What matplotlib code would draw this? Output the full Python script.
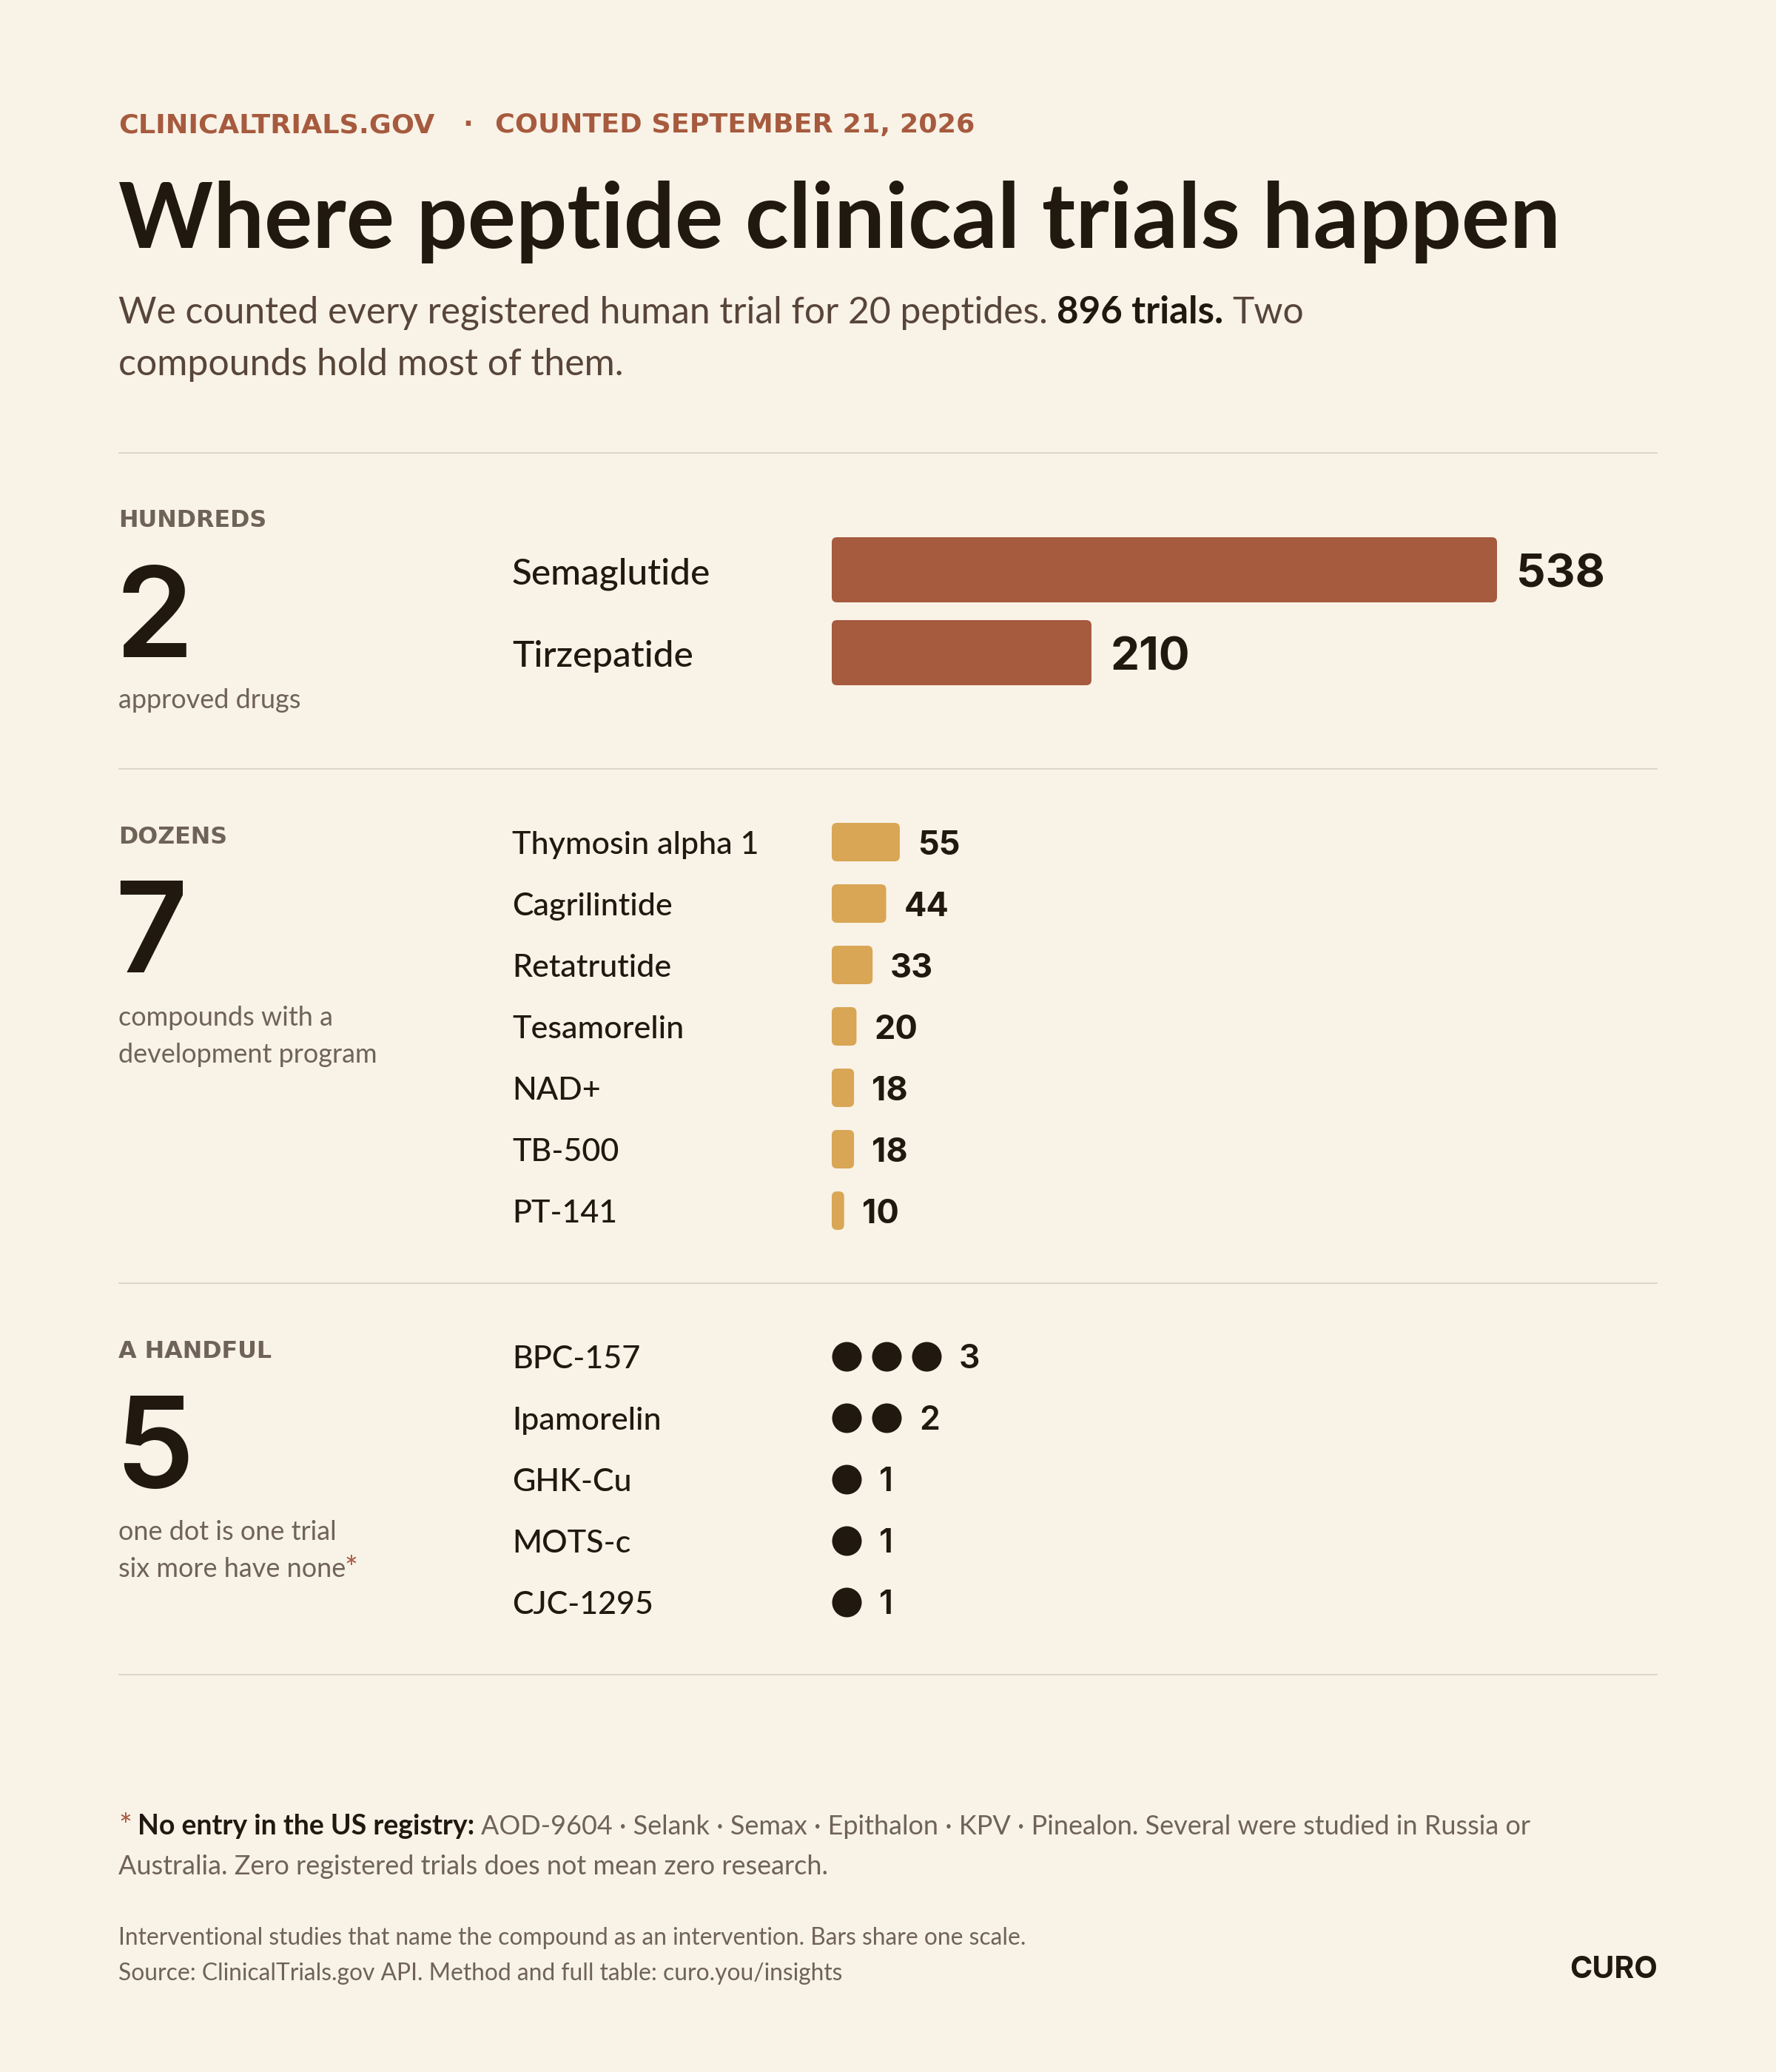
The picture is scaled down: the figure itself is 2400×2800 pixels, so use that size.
"""
Where peptide clinical trials happen - one tall poster, laid out in 2400x2800 pixels
"""

import matplotlib
matplotlib.use("Agg")
import matplotlib.pyplot as plt
from matplotlib.patches import FancyBboxPatch

# 数据
hundreds_names = ["Semaglutide", "Tirzepatide"]
hundreds_values = [538, 210]
dozens_names = ["Thymosin alpha 1", "Cagrilintide", "Retatrutide", "Tesamorelin", "NAD+", "TB-500", "PT-141"]
dozens_values = [55, 44, 33, 20, 18, 18, 10]
handful_names = ["BPC-157", "Ipamorelin", "GHK-Cu", "MOTS-c", "CJC-1295"]
handful_values = [3, 2, 1, 1, 1]

BG = "#F9F2E7"
RUST = "#A65A3E"
GOLD = "#D9A655"
INK = "#211810"
BROWN = "#57453A"
GREY = "#6F6358"
RULE = "#DDD5C8"

W, H = 2400, 2800
DPI = 200
PT = 72 / DPI  # 1 pixel in points
PX_PER_TRIAL = 1.671
BAR_LEFT = 1124
NAME_LEFT = 692
FONT = "Inter"
BODY = "Lato"
CAPS = "DejaVu Sans"

plt.rcParams["font.family"] = [BODY, "DejaVu Sans"]

fig = plt.figure(figsize=(W / DPI, H / DPI), dpi=DPI, facecolor=BG)

# full page axes in pixels, for the text and rules
page = fig.add_axes([0, 0, 1, 1])
page.set_xlim(0, W)
page.set_ylim(H, 0)
page.axis("off")
renderer = fig.canvas.get_renderer()


def txt(x, y, s, px, color=INK, weight="normal", family=BODY, ha="left"):
    return page.text(x, y, s, fontsize=px * PT, color=color, fontweight=weight,
                     family=family, ha=ha, va="baseline")


def runs(x, y, parts):
    # several styles on one line, one after the other
    for s, color, weight, px in parts:
        t = txt(x, y, s, px, color, weight)
        x = page.transData.inverted().transform(t.get_window_extent(renderer))[1, 0] + px * 0.24


def row_axes(top, pitch, n):
    ax = fig.add_axes([BAR_LEFT / W, 1 - (top + pitch * (n - 0.5)) / H,
                       (W - BAR_LEFT) / W, pitch * n / H], zorder=2)
    ax.set_xlim(0, (W - BAR_LEFT) / PX_PER_TRIAL)
    ax.set_ylim(n - 0.5, -0.5)
    ax.axis("off")
    return ax


def label(ax, x, i, s, dx, dy, px, weight, family=FONT):
    ax.annotate(s, (x, i), xytext=(dx * PT, -dy * PT), textcoords="offset points",
                fontsize=px * PT, color=INK, fontweight=weight, family=family,
                ha="left", va="baseline")


def bars(top, pitch, names, values, color, bar_px, radius, name_px, value_px, name_dy, value_dy, gap):
    ax = row_axes(top, pitch, len(names))
    h = bar_px / pitch
    for i, (name, v) in enumerate(zip(names, values)):
        ax.add_patch(FancyBboxPatch((0, i - h / 2), v, h,
                                    boxstyle=f"round,pad=0,rounding_size={radius / PX_PER_TRIAL}",
                                    mutation_aspect=PX_PER_TRIAL / pitch,
                                    fc=color, ec="none"))
        label(ax, 0, i, name, NAME_LEFT - BAR_LEFT, name_dy, name_px, "medium", BODY)
        label(ax, v, i, str(v), gap, value_dy, value_px, 700)


# header
txt(160, 179, "CLINICALTRIALS.GOV", 36.5, RUST, "bold", CAPS)
txt(625, 179, "·", 36.5, RUST, "bold", CAPS)
txt(669, 179, "COUNTED SEPTEMBER 21, 2026", 36.5, RUST, "bold", CAPS)
txt(160, 335, "Where peptide clinical trials happen", 122, INK, "bold", BODY)
runs(160, 437, [("We counted every registered human trial for 20 peptides.", BROWN, "normal", 49.7),
                ("896 trials.", INK, "bold", 51), ("Two", BROWN, "normal", 49.7)])
txt(160, 507, "compounds hold most of them.", 50, BROWN)

# section rules
for y in [612, 1039, 1734, 2263]:
    page.plot([160, 2240], [y, y], color=RULE, lw=2 * PT, solid_capstyle="butt")

# left column
txt(160, 712, "HUNDREDS", 31.8, GREY, "bold", CAPS)
txt(155, 888, "2", 170, INK, "semibold", FONT)
txt(160, 957, "approved drugs", 36, GREY)

txt(160, 1140, "DOZENS", 31.8, GREY, "bold", CAPS)
txt(155, 1314, "7", 170, INK, "semibold", FONT)
txt(160, 1386, "compounds with a", 36, GREY)
txt(160, 1436, "development program", 36, GREY)

txt(160, 1835, "A HANDFUL", 31.8, GREY, "bold", CAPS)
txt(155, 2010, "5", 170, INK, "semibold", FONT)
txt(160, 2081, "one dot is one trial", 36, GREY)
txt(160, 2131, "six more have none", 36, GREY)
page.text(465, 2133, "*", fontsize=42 * PT, color=RUST, va="baseline")

# bars share one scale
bars(770, 112, hundreds_names, hundreds_values, RUST, 88, 7, 49.5, 62, 19, 23, 26)
bars(1138, 83, dozens_names, dozens_values, GOLD, 52, 7, 43, 45, 16, 17, 24)

# one dot is one trial
dot_ax = row_axes(1833, 83, len(handful_names))
DOT_PITCH = 54 / PX_PER_TRIAL
DOT_R = 20 / PX_PER_TRIAL
for i, (name, v) in enumerate(zip(handful_names, handful_values)):
    xs = [DOT_R + k * DOT_PITCH for k in range(v)]
    dot_ax.scatter(xs, [i] * v, s=(40 * PT) ** 2, color=INK, linewidths=0, clip_on=False)
    label(dot_ax, xs[-1] + DOT_R, i, str(v), 24, 16, 45, 600)
    label(dot_ax, 0, i, name, NAME_LEFT - BAR_LEFT, 16, 43, "medium", BODY)

# footer
page.text(160, 2481, "*", fontsize=42 * PT, color=RUST, va="baseline")
runs(186, 2479, [("No entry in the US registry:", INK, "bold", 37.5),
                 ("AOD-9604 · Selank · Semax · Epithalon · KPV · Pinealon. Several were studied in Russia or", GREY, "normal", 36)])
txt(160, 2533, "Australia. Zero registered trials does not mean zero research.", 36, GREY)
txt(160, 2628, "Interventional studies that name the compound as an intervention. Bars share one scale.", 31.8, GREY)
txt(160, 2676, "Source: ClinicalTrials.gov API. Method and full table: curo.you/insights", 31.8, GREY)
txt(2240, 2673, "CURO", 41, INK, "bold", FONT, ha="right")

fig.savefig("out.png", dpi=DPI, facecolor=BG)
plt.close(fig)
